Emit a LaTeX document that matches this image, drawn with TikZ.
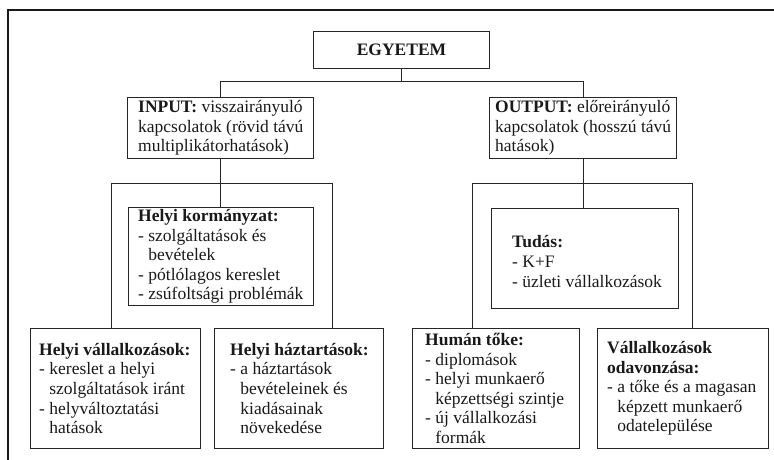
\documentclass[tikz,border=0pt]{standalone}
\usepackage{fontspec}
\setmainfont{Liberation Serif}
\newcommand\ind{\phantom{-}\ }
\begin{document}
\begin{tikzpicture}[x=1pt,y=-1pt,
  box/.style={draw=black!85, line width=1pt, inner sep=0pt, anchor=north west},
  txt/.style={anchor=west, align=left, inner sep=0pt, text=black!90, font=\fontsize{17.5}{19.6}\selectfont},
  conn/.style={draw=black!85, line width=1pt}]
\useasboundingbox (0,0) rectangle (774,460);
\draw[line width=2pt, black!90] (8,460) -- (8,10) -- (774,10);
% boxes
\node[box, minimum width=176pt, minimum height=37pt] (egy) at (313,31) {};
\node[box, minimum width=186pt, minimum height=61pt] (input) at (127,97) {};
\node[box, minimum width=187pt, minimum height=61pt] (output) at (489,97) {};
\node[box, minimum width=185pt, minimum height=98pt] (korm) at (128,207) {};
\node[box, minimum width=170pt, minimum height=120pt] (vall) at (30,328) {};
\node[box, minimum width=169pt, minimum height=120pt] (haz) at (214,328) {};
\node[box, minimum width=187pt, minimum height=100pt] (tudas) at (491,208) {};
\node[box, minimum width=167pt, minimum height=120pt] (human) at (412,328) {};
\node[box, minimum width=171pt, minimum height=120pt] (vallk) at (597,328) {};
% texts
\node[txt, anchor=center] (egyt) at (egy.center) {\textbf{EGYETEM}};
\node[txt] (inputt) at ([xshift=11pt]input.west) {\textbf{INPUT:} visszairányuló\\kapcsolatok (rövid távú\\multiplikátorhatások)};
\node[txt] (outputt) at ([xshift=6pt]output.west) {\textbf{OUTPUT:} előreirányuló\\kapcsolatok (hosszú távú\\hatások)};
\node[txt] (kormt) at ([xshift=10pt]korm.west) {\textbf{Helyi kormányzat:}\\- szolgáltatások és\\\ind bevételek\\- pótlólagos kereslet\\- zsúfoltsági problémák};
\node[txt] (vallt) at ([xshift=9pt]vall.west) {\textbf{Helyi vállalkozások:}\\- kereslet a helyi\\\ind szolgáltatások iránt\\- helyváltoztatási\\\ind hatások};
\node[txt] (hazt) at ([xshift=16pt]haz.west) {\textbf{Helyi háztartások:}\\- a háztartások\\\ind bevételeinek és\\\ind kiadásainak\\\ind növekedése};
\node[txt] (tudast) at ([xshift=21pt,yshift=-3pt]tudas.west) {\textbf{Tudás:}\\- K+F\\- üzleti vállalkozások};
\node[txt] (humant) at ([xshift=13pt]human.west) {\textbf{Humán tőke:}\\- diplomások\\- helyi munkaerő\\\ind képzettségi szintje\\- új vállalkozási\\\ind formák};
\node[txt] (vallkt) at ([xshift=10pt]vallk.west) {\textbf{Vállalkozások}\\\textbf{odavonzása:}\\- a tőke és a magasan\\\ind képzett munkaerő\\\ind odatelepülése};
% connector coordinates
\coordinate (ytop) at (0,82);
\coordinate (iL) at (111,183);
\coordinate (iR) at (332,183);
\coordinate (oL) at (472,183);
\coordinate (oR) at (692,183);
% connectors
\draw[conn] (egy.south) -- (egy.south |- ytop);
\draw[conn] (input.north) -- (input.north |- ytop) -- (output.north |- ytop) -- (output.north);
\draw[conn] (input.south) -- (input.south |- korm.north);
\draw[conn] (vall.north -| iL) -- (iL) -- (iR) -- (haz.north -| iR);
\draw[conn] (output.south) -- (output.south |- tudas.north);
\draw[conn] (human.north -| oL) -- (oL) -- (oR) -- (vallk.north -| oR);
\end{tikzpicture}
\end{document}
